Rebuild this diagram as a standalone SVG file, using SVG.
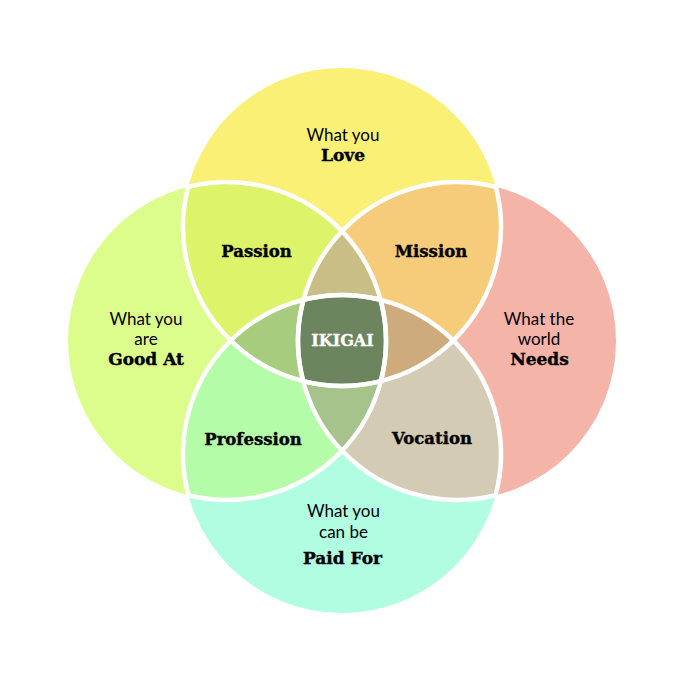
<svg xmlns="http://www.w3.org/2000/svg" width="685" height="682" viewBox="0 0 685 682">
  <style>
    .edge { fill: none; stroke: #ffffff; stroke-width: 4.5; stroke-linejoin: round; }
    .head { font-family: "DejaVu Serif", "Liberation Serif", serif; font-weight: bold; fill: #000000; stroke: #000000; stroke-width: 0.4; text-anchor: middle; }
    .sub { font-family: Lato, "Liberation Sans", sans-serif; font-size: 17px; fill: #000000; text-anchor: middle; }
    .big { font-size: 17px; }
    .mid { font-size: 16.5px; }
    .core { font-family: "DejaVu Serif", "Liberation Serif", serif; font-weight: bold; font-size: 16px; fill: #ffffff; stroke: #ffffff; stroke-width: 0.3; text-anchor: middle; }
  </style>
  <defs>
    <clipPath id="cT"><circle cx="342" cy="227" r="159"/></clipPath>
    <clipPath id="cL"><circle cx="227" cy="341" r="159"/></clipPath>
    <clipPath id="cR"><circle cx="457" cy="341" r="159"/></clipPath>
    <clipPath id="cB"><circle cx="342" cy="454" r="159"/></clipPath>
    <!-- lens outlines of neighbouring circles -->
    <path id="lensTL" d="M188.16,186.82 A159,159 0 0 1 380.84,381.18 A159,159 0 0 1 188.16,186.82 Z"/>
    <path id="lensTR" d="M303.16,381.18 A159,159 0 0 1 495.84,186.82 A159,159 0 0 1 303.16,381.18 Z"/>
    <path id="lensRB" d="M303.45,299.75 A159,159 0 0 1 495.55,495.25 A159,159 0 0 1 303.45,299.75 Z"/>
    <path id="lensLB" d="M188.45,495.25 A159,159 0 0 1 380.55,299.75 A159,159 0 0 1 188.45,495.25 Z"/>
  </defs>

  <rect width="685" height="682" fill="#ffffff"/>

  <!-- outer circles -->
  <g id="love"><circle cx="342" cy="227" r="159" fill="#faf075"/></g>
  <g id="good-at"><circle cx="227" cy="341" r="159" fill="#dcfd8c"/></g>
  <g id="needs"><circle cx="457" cy="341" r="159" fill="#f5b4a8"/></g>
  <g id="paid-for"><circle cx="342" cy="454" r="159" fill="#b0fde1"/></g>

  <!-- pairwise overlaps -->
  <g id="passion"><use href="#lensTL" fill="#ddf36a"/></g>
  <g id="mission"><use href="#lensTR" fill="#f6cb7a"/></g>
  <g id="vocation"><use href="#lensRB" fill="#d3cbb4"/></g>
  <g id="profession"><use href="#lensLB" fill="#b5fca8"/></g>

  <!-- triple overlaps -->
  <g id="triple-top" clip-path="url(#cL)"><g clip-path="url(#cR)"><circle cx="342" cy="227" r="159" fill="#c9be85"/></g></g>
  <g id="triple-left" clip-path="url(#cL)"><g clip-path="url(#cB)"><circle cx="342" cy="227" r="159" fill="#a7cc7e"/></g></g>
  <g id="triple-right" clip-path="url(#cR)"><g clip-path="url(#cB)"><circle cx="342" cy="227" r="159" fill="#cdab7c"/></g></g>
  <g id="triple-bottom" clip-path="url(#cL)"><g clip-path="url(#cR)"><circle cx="342" cy="454" r="159" fill="#a6c38b"/></g></g>

  <!-- centre: all four -->
  <g id="ikigai" clip-path="url(#cL)"><g clip-path="url(#cR)"><g clip-path="url(#cB)"><circle cx="342" cy="227" r="159" fill="#6c855e"/></g></g></g>

  <!-- white borders between regions -->
  <g id="connectors">
    <use href="#lensTL" class="edge"/>
    <use href="#lensTR" class="edge"/>
    <use href="#lensRB" class="edge"/>
    <use href="#lensLB" class="edge"/>
  </g>

  <!-- labels -->
  <g id="labels">
    <text class="sub" x="343" y="141">What you</text>
    <text class="head big" x="343" y="161">Love</text>

    <text class="sub" x="146" y="325">What you</text>
    <text class="sub" x="146" y="345">are</text>
    <text class="head big" x="146" y="365">Good At</text>

    <text class="sub" x="539" y="325">What the</text>
    <text class="sub" x="539" y="345">world</text>
    <text class="head big" x="539.5" y="365">Needs</text>

    <text class="sub" x="343.5" y="517">What you</text>
    <text class="sub" x="343.5" y="538">can be</text>
    <text class="head big" x="342.5" y="564">Paid For</text>

    <text class="head mid" x="256.5" y="257">Passion</text>
    <text class="head mid" x="431" y="257">Mission</text>
    <text class="head mid" x="253" y="445">Profession</text>
    <text class="head mid" x="432" y="444">Vocation</text>

    <text class="core" x="342.5" y="346">IKIGAI</text>
  </g>
</svg>
